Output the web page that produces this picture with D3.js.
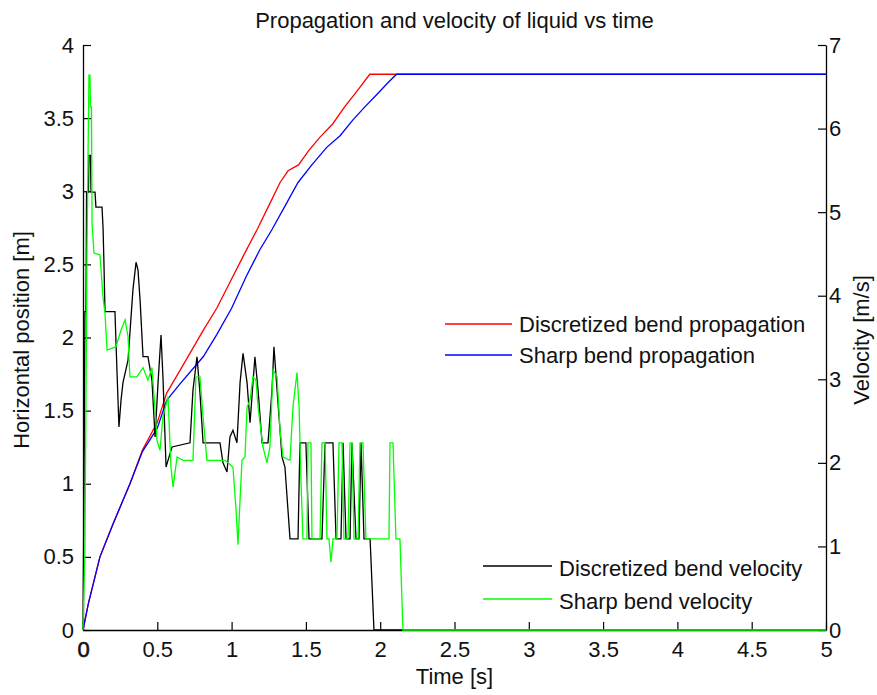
<!DOCTYPE html>
<html><head><meta charset="utf-8">
<script src="https://cdn.jsdelivr.net/npm/d3@7"></script>
<style>body{margin:0;background:#fff} svg{display:block}</style>
</head><body>
<script>
// ---- data ----
const xTicks=[0,0.5,1,1.5,2,2.5,3,3.5,4,4.5,5];
const xTickLabels=["0","0.5","1","1.5","2","2.5","3","3.5","4","4.5","5"];
const leftTicks=[0,0.5,1,1.5,2,2.5,3,3.5,4];
const leftTickLabels=["0","0.5","1","1.5","2","2.5","3","3.5","4"];
const rightTicks=[0,1,2,3,4,5,6,7];
const rightTickLabels=["0","1","2","3","4","5","6","7"];

const seriesNames=["Discretized bend propagation","Sharp bend propagation","Discretized bend velocity","Sharp bend velocity"];
const seriesColors=["#ff0000","#0000ff","#000000","#00ff00"];

const discPropT=[0,0.036,0.114,0.2,0.316,0.40,0.5,0.563,0.65,0.81,0.9,1.0,1.08,1.17,1.25,1.326,1.38,1.45,1.52,1.595,1.68,1.763,1.84,1.93,5];
const discPropX=[0,0.18,0.5,0.72,1.0,1.23,1.42,1.62,1.77,2.05,2.2,2.4,2.56,2.735,2.9,3.06,3.14,3.18,3.28,3.37,3.46,3.58,3.68,3.8,3.8];

const sharpPropT=[0,0.036,0.114,0.2,0.316,0.40,0.5,0.563,0.65,0.81,0.9,1.0,1.1,1.19,1.27,1.36,1.447,1.54,1.64,1.73,1.818,1.9,1.976,2.05,2.11,5];
const sharpPropX=[0,0.18,0.5,0.72,1.0,1.22,1.38,1.57,1.68,1.87,2.02,2.2,2.42,2.6,2.735,2.9,3.06,3.18,3.3,3.38,3.49,3.58,3.66,3.74,3.8,3.8];

const discVelT=[0,0.007,0.013,0.02,0.024,0.037,0.040,0.050,0.054,0.081,0.087,0.128,0.135,0.141,0.148,0.215,0.229,0.242,0.256,0.269,0.303,0.336,0.357,0.370,0.384,0.404,0.437,0.464,0.485,0.505,0.525,0.538,0.559,0.572,0.599,0.720,0.740,0.767,0.787,0.808,0.922,0.942,0.969,0.989,1.009,1.036,1.057,1.077,1.104,1.124,1.157,1.178,1.205,1.245,1.272,1.285,1.306,1.339,1.359,1.393,1.447,1.460,1.500,1.521,1.608,1.629,1.682,1.703,1.736,1.750,1.770,1.797,1.810,1.837,1.857,1.871,1.891,1.932,1.958,5];
const discVelV=[0,1.79,3.81,3.81,5.24,5.24,5.68,5.68,5.24,5.24,5.06,5.06,4.81,4.39,3.81,3.81,3.08,2.43,2.75,2.96,3.23,4.07,4.40,4.31,3.95,3.27,3.27,2.99,2.31,2.96,3.53,3.03,1.95,2.03,2.19,2.24,2.87,3.27,2.84,2.24,2.24,2.00,1.89,2.31,2.39,2.24,2.96,3.31,2.96,2.48,3.27,2.87,2.24,2.24,2.87,3.39,2.87,2.07,1.95,1.09,1.09,2.24,2.24,1.09,1.09,2.24,2.24,1.09,1.09,2.24,1.09,1.09,2.24,1.09,1.09,2.24,1.09,1.09,0,0];

const sharpVelT=[0,0.013,0.027,0.040,0.047,0.050,0.057,0.061,0.074,0.114,0.135,0.148,0.162,0.222,0.256,0.283,0.303,0.316,0.363,0.404,0.437,0.464,0.485,0.498,0.518,0.538,0.572,0.592,0.606,0.633,0.673,0.740,0.760,0.787,0.808,0.834,0.956,1.009,1.030,1.043,1.057,1.070,1.090,1.104,1.124,1.144,1.164,1.178,1.211,1.238,1.258,1.279,1.306,1.326,1.346,1.393,1.413,1.440,1.454,1.467,1.480,1.507,1.514,1.534,1.541,1.595,1.608,1.629,1.642,1.655,1.669,1.682,1.709,1.723,1.743,1.756,1.783,1.797,1.810,1.824,1.851,1.864,1.884,1.904,2.059,2.066,2.086,2.106,2.133,2.153,5];
const sharpVelV=[0,0.96,4.55,6.64,6.64,6.26,6.26,4.87,4.51,4.49,3.98,3.79,3.35,3.39,3.59,3.71,3.51,3.03,3.03,3.14,2.99,3.14,2.63,2.27,2.15,2.55,2.79,1.95,1.71,2.07,2.03,2.03,3.03,3.03,2.55,2.03,2.03,1.95,1.44,1.02,1.56,2.03,2.07,2.67,2.75,3.03,2.99,2.67,2.19,2.00,2.19,3.11,3.03,2.39,2.07,2.03,2.67,3.08,2.67,1.79,1.09,1.09,2.24,2.24,1.09,1.09,2.24,2.24,1.09,1.09,0.81,1.09,1.09,2.24,2.24,1.09,1.09,2.24,2.24,1.09,1.09,2.24,2.24,1.09,1.09,2.24,2.24,1.09,1.09,0,0];

// ---- layout ----
const W=877,H=695;
const m={l:83,r:826,t:45,b:630};
const FONT='"Liberation Sans", Arial, Helvetica, sans-serif';
const FS=22;

const x=d3.scaleLinear().domain([0,5]).range([m.l,m.r]);
const yL=d3.scaleLinear().domain([0,4]).range([m.b,m.t]);
const yR=d3.scaleLinear().domain([0,7]).range([m.b,m.t]);

const svg=d3.select('body').append('svg').attr('width',W).attr('height',H)
  .style('font-family',FONT);

const zip=(a,b)=>a.map((v,i)=>[v,b[i]]);
const lineL=d3.line().x(d=>x(d[0])).y(d=>yL(d[1]));
const lineR=d3.line().x(d=>x(d[0])).y(d=>yR(d[1]));

function styleAxis(g){
  g.attr('font-family',FONT).attr('font-size',FS);
  g.selectAll('.domain').attr('stroke','#000').attr('stroke-width',1.3);
  g.selectAll('.tick line').attr('stroke','#000').attr('stroke-width',1.2);
  g.selectAll('.tick text').attr('fill','#111');
}

// axes first (lines drawn on top, as in the reference)
const gL=svg.append('g').attr('transform',`translate(${m.l},0)`)
  .call(d3.axisLeft(yL).tickValues(leftTicks).tickFormat((d,i)=>leftTickLabels[i]).tickSize(-8).tickSizeOuter(0).tickPadding(9));
styleAxis(gL);
const gB=svg.append('g').attr('transform',`translate(0,${m.b})`)
  .call(d3.axisBottom(x).tickValues(xTicks).tickFormat((d,i)=>xTickLabels[i]).tickSize(-8).tickSizeOuter(0).tickPadding(11));
styleAxis(gB);
gB.select('.tick text').attr('stroke','#111').attr('stroke-width',0.6);
const gR=svg.append('g').attr('transform',`translate(${m.r},0)`)
  .call(d3.axisRight(yR).tickValues(rightTicks).tickFormat((d,i)=>rightTickLabels[i]).tickSize(-8).tickSizeOuter(0).tickPadding(3));
styleAxis(gR);

// position lines
svg.append('path').attr('d',lineL(zip(discPropT,discPropX))).attr('fill','none').attr('stroke',seriesColors[0]).attr('stroke-width',1.3);
svg.append('path').attr('d',lineL(zip(sharpPropT,sharpPropX))).attr('fill','none').attr('stroke',seriesColors[1]).attr('stroke-width',1.3);
// velocity lines
svg.append('path').attr('d',lineR(zip(discVelT,discVelV))).attr('fill','none').attr('stroke',seriesColors[2]).attr('stroke-width',1.3);
svg.append('path').attr('d',lineR(zip(sharpVelT,sharpVelV))).attr('fill','none').attr('stroke',seriesColors[3]).attr('stroke-width',1.3);

// title + axis labels
svg.append('text').attr('x',(m.l+m.r)/2).attr('y',28).attr('text-anchor','middle')
  .attr('font-size',FS).attr('fill','#111').text('Propagation and velocity of liquid vs time');
svg.append('text').attr('x',(m.l+m.r)/2).attr('y',684).attr('text-anchor','middle')
  .attr('font-size',FS).attr('fill','#111').text('Time [s]');
svg.append('text').attr('transform','translate(28.5,340) rotate(-90)').attr('text-anchor','middle')
  .attr('font-size',FS).attr('fill','#111').text('Horizontal position [m]');
svg.append('text').attr('transform','translate(869,340) rotate(-90)').attr('text-anchor','middle')
  .attr('font-size',FS).attr('fill','#111').text('Velocity [m/s]');

// legends
const legends=[
  {i:0,x1:445,x2:512,y:324,tx:519,ty:332},
  {i:1,x1:445,x2:512,y:355,tx:519,ty:363},
  {i:2,x1:483,x2:552,y:566,tx:559,ty:576},
  {i:3,x1:483,x2:552,y:599,tx:559,ty:609}
];
legends.forEach(l=>{
  svg.append('line').attr('x1',l.x1).attr('x2',l.x2).attr('y1',l.y).attr('y2',l.y)
    .attr('stroke',seriesColors[l.i]).attr('stroke-width',1.3);
  svg.append('text').attr('x',l.tx).attr('y',l.ty).attr('font-size',FS).attr('fill','#111').text(seriesNames[l.i]);
});
</script>
</body></html>
